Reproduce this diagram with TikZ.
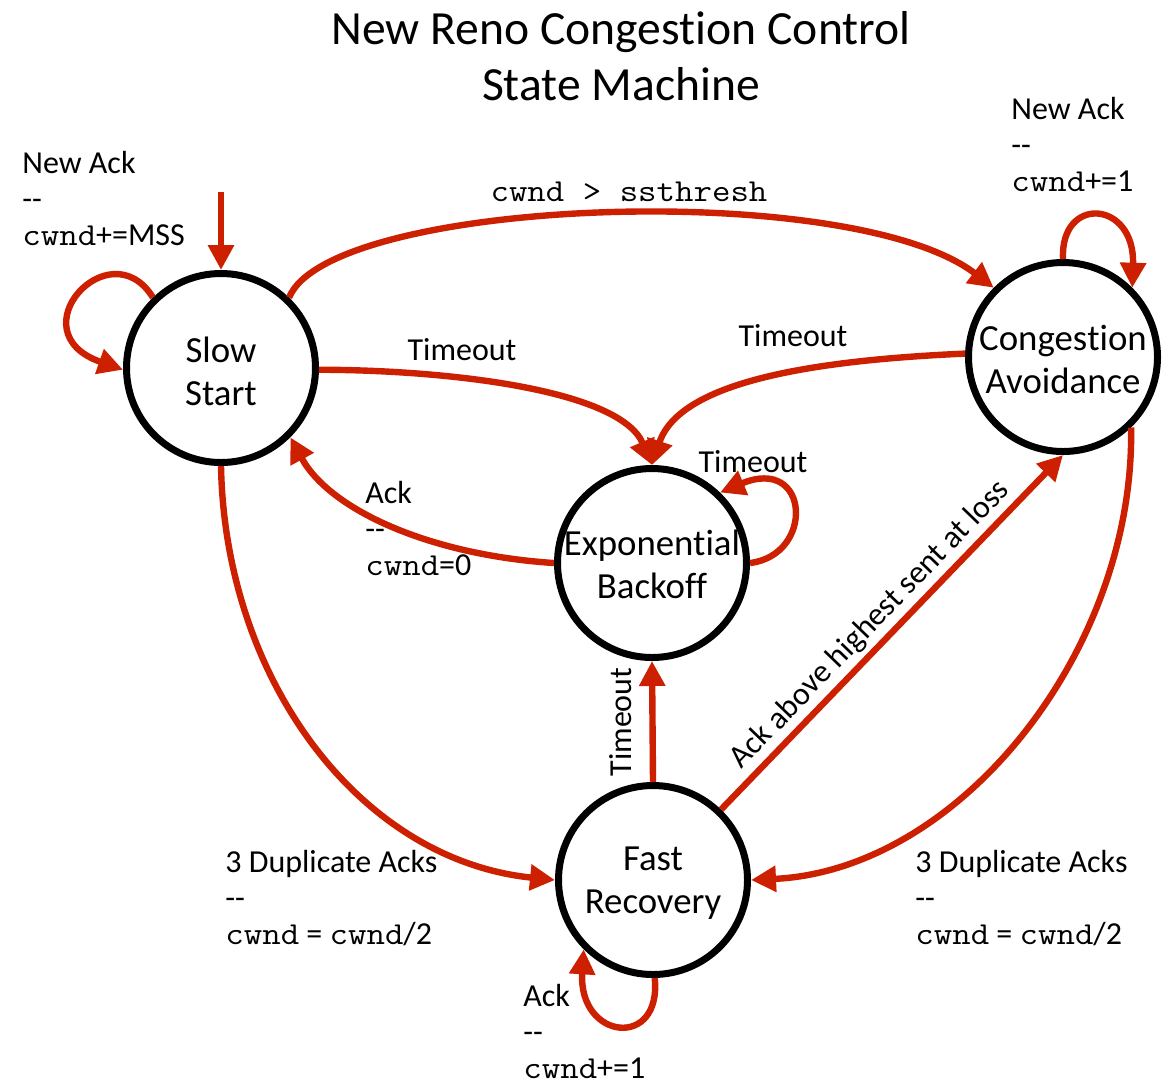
\documentclass[tikz,border=0pt]{standalone}
\usepackage{fontspec}
\setmainfont{Carlito}[RawFeature={-liga;-clig;-dlig;-calt}]
\setmonofont{Latin Modern Mono}[FakeStretch=1.12]
\usetikzlibrary{arrows.meta}
\definecolor{arrowred}{RGB}{204,32,0}
% keep "t" and "i" as separate glyphs
\newcommand\Cong{Conges\kern0pt tion}
\begin{document}
\begin{tikzpicture}[x=0.5pt,y=-0.5pt,
  state/.style={circle,draw=black,line width=3.5pt,minimum size=94.5pt,inner sep=0pt},
  statetext/.style={align=center,inner sep=0pt,font=\fontsize{18.4}{21.5}\selectfont},
  trans/.style={draw=arrowred,line width=3.2pt,-{Triangle[length=12.5pt,width=12.5pt]}},
  lbl/.style={inner sep=0pt,font=\fontsize{16}{18}\selectfont},
  cond/.style={lbl,align=left,anchor=north west},
]
\useasboundingbox (0,0) rectangle (1170,1084);

% title
\node[align=center,font=\fontsize{23.8}{28}\selectfont] (title) at (621,56)
  {New Reno \Cong{} Control\\State Machine};

% states
\node[state] (ss) at (221,368) {};
\node[state] (ca) at (1063,357) {};
\node[state] (eb) at (652,563) {};
\node[state] (fr) at (653,880) {};
\node[statetext] (ssl) at (221,371) {Slow\\Start};
\node[statetext] (cal) at (1063,359) {\Cong\\Avoidance};
\node[statetext] (ebl) at (652,564) {Exponential\\Backoff};
\node[statetext] (frl) at (653,883) {Fast\\Recovery};

% transition labels
\node[cond] (ssc) at (22,151) {New Ack\\-{}-\\\texttt{cwnd}+=MSS};
\node[cond] (cac) at (1011,97) {New Ack\\-{}-\\\texttt{cwnd}+=1};
\node[lbl] (sst) at (629,192) {\texttt{cwnd > ssthresh}};
\node[lbl] (to1) at (462,350) {Timeout};
\node[lbl] (to2) at (793,336) {Timeout};
\node[lbl] (to3) at (753,462) {Timeout};
\node[cond] (ackc) at (365,481) {Ack\\-{}-\\\texttt{cwnd}=0};
\node[lbl,rotate=90] (to4) at (621,722) {Timeout};
\node[cond] (dup1) at (225,850) {3 Duplicate Acks\\-{}-\\\texttt{cwnd} = \texttt{cwnd}/2};
\node[cond] (dup2) at (915,850) {3 Duplicate Acks\\-{}-\\\texttt{cwnd} = \texttt{cwnd}/2};
\node[cond] (frc) at (523,984) {Ack\\-{}-\\\texttt{cwnd}+=1};

% transitions
\coordinate (init) at (221,192);
\draw[trans] (init) -- (ss.north);
\draw[trans] (ss.134) .. controls (110,228) and (15,332) .. (ss.181);
\draw[trans] (ss.46) .. controls (330,198) and (850,178) .. (ca.135);
\draw[trans] (ca.90) .. controls (1060,195) and (1135,200) .. (ca.45);
\draw[trans] (ss.-1) .. controls (450,370) and (620,390) .. (eb.north);
\draw[trans] (ca.178) .. controls (820,360) and (680,380) .. (eb.north);
\draw[trans] (eb.0) .. controls (815,555) and (810,455) .. (eb.46);
\draw[trans] (eb.180) .. controls (430,555) and (330,510) .. (ss.-45);
\draw[trans] (fr.north) -- (eb.south);
\draw[trans] (fr.46) -- node[lbl,sloped,above=2pt,pos=0.48] (hl) {Ack above highest sent at loss} (ca.south);
\draw[trans] (ss.south) .. controls (225,680) and (360,860) .. (fr.west);
\draw[trans] (ca.-46) .. controls (1135,650) and (960,870) .. (fr.east);
\draw[trans] (fr.-89) .. controls (662,1050) and (578,1040) .. (fr.-135);
\end{tikzpicture}
\end{document}
